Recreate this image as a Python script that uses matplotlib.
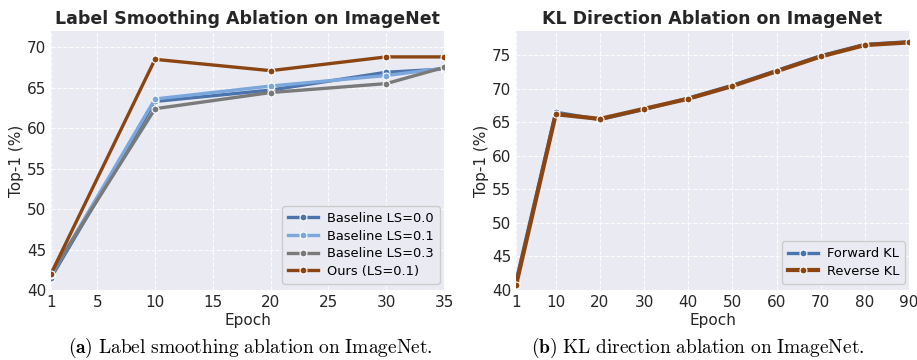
import matplotlib
matplotlib.use("Agg")
import matplotlib.pyplot as plt

# Label smoothing ablation (left panel)
ls_epochs = [1, 10, 20, 30, 35]
ls_base_00 = [41.5, 63.3, 64.7, 66.9, 67.3]
ls_base_01 = [41.8, 63.6, 65.2, 66.5, 67.4]
ls_base_03 = [42.0, 62.4, 64.4, 65.5, 67.5]
ls_ours = [42.0, 68.5, 67.1, 68.8, 68.8]
ls_xticks = [1, 5, 10, 15, 20, 25, 30, 35]
ls_yticks = [40, 45, 50, 55, 60, 65, 70]

# KL direction ablation (right panel)
kl_epochs = [1, 10, 20, 30, 40, 50, 60, 70, 80, 90]
kl_forward = [41.3, 66.5, 65.4, 66.9, 68.6, 70.5, 72.7, 74.9, 76.6, 77.0]
kl_reverse = [40.7, 66.2, 65.5, 67.0, 68.5, 70.4, 72.6, 74.8, 76.5, 76.9]
kl_xticks = [1, 10, 20, 30, 40, 50, 60, 70, 80, 90]
kl_yticks = [40, 45, 50, 55, 60, 65, 70, 75]

DARK_BLUE = '#4a74ab'
LIGHT_BLUE = '#7ba7dd'
GRAY = '#7a7a7a'
BROWN = '#8b4513'

plt.rcParams['mathtext.fontset'] = 'cm'


def style_axes(ax):
    ax.set_facecolor('#eaeaf2')
    for s in ax.spines.values():
        s.set_visible(False)
    ax.grid(True, color='white', linestyle='--', linewidth=0.8, alpha=0.9)
    ax.set_axisbelow(True)
    ax.tick_params(axis='both', length=0, labelsize=11, colors='#262626', pad=3.5)


def plot_line(ax, x, y, color, label, lw=2.4):
    ax.plot(x, y, color=color, linewidth=lw, marker='o', markersize=5,
            markeredgecolor='white', markeredgewidth=0.8, label=label)


def add_legend(ax):
    ax.legend(loc='lower right', fontsize=9.4, frameon=True, facecolor='#eaeaf2',
              edgecolor='#cccccc', framealpha=1.0, handlelength=2.3,
              borderpad=0.45, labelspacing=0.35, handletextpad=0.7,
              bbox_to_anchor=(0.99, 0.025), borderaxespad=0.0)


fig = plt.figure(figsize=(9.17, 3.6), dpi=100)
ax1 = fig.add_axes([51 / 917, 1 - 290 / 360, 393 / 917, 259 / 360])
ax2 = fig.add_axes([516 / 917, 1 - 290 / 360, 393 / 917, 259 / 360])

style_axes(ax1)
plot_line(ax1, ls_epochs, ls_base_00, DARK_BLUE, 'Baseline LS=0.0')
plot_line(ax1, ls_epochs, ls_base_01, LIGHT_BLUE, 'Baseline LS=0.1')
plot_line(ax1, ls_epochs, ls_base_03, GRAY, 'Baseline LS=0.3')
plot_line(ax1, ls_epochs, ls_ours, BROWN, 'Ours (LS=0.1)')
ax1.set_xlim(1, 35)
ax1.set_ylim(40, 72)
ax1.set_xticks(ls_xticks)
ax1.set_yticks(ls_yticks)
ax1.set_xlabel('Epoch', fontsize=11, color='#262626', labelpad=2)
ax1.set_ylabel('Top-1 (%)', fontsize=11, color='#262626', labelpad=2)
ax1.set_title('Label Smoothing Ablation on ImageNet', fontsize=12.5,
              fontweight='bold', color='#262626', pad=5)
add_legend(ax1)

style_axes(ax2)
plot_line(ax2, kl_epochs, kl_forward, DARK_BLUE, 'Forward KL')
plot_line(ax2, kl_epochs, kl_reverse, BROWN, 'Reverse KL', lw=3.0)
ax2.set_xlim(1, 90)
ax2.set_ylim(40, 78.6)
ax2.set_xticks(kl_xticks)
ax2.set_yticks(kl_yticks)
ax2.set_xlabel('Epoch', fontsize=11, color='#262626', labelpad=2)
ax2.set_ylabel('Top-1 (%)', fontsize=11, color='#262626', labelpad=2)
ax2.set_title('KL Direction Ablation on ImageNet', fontsize=12.5,
              fontweight='bold', color='#262626', pad=5)
add_legend(ax2)

# Subfigure captions
fig.text(250 / 917, 1 - 348 / 360,
         r'$\mathbf{(a)}\ \mathrm{Label\ smoothing\ ablation\ on\ ImageNet.}$',
         ha='center', va='center', fontsize=14)
fig.text(698 / 917, 1 - 348 / 360,
         r'$\mathbf{(b)}\ \mathrm{KL\ direction\ ablation\ on\ ImageNet.}$',
         ha='center', va='center', fontsize=14)

fig.savefig('out.png', dpi=100)
